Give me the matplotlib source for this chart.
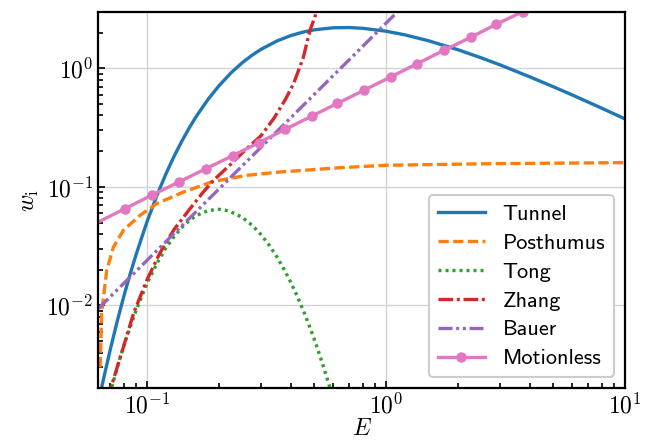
import numpy as np
import matplotlib
matplotlib.use('Agg')
import matplotlib.pyplot as plt
from matplotlib import ticker

plt.rcParams['mathtext.fontset'] = 'cm'
plt.rcParams['font.size'] = 17

# values
tunnel_E = [0.0625, 0.065, 0.07, 0.075, 0.08, 0.085, 0.09, 0.095, 0.1, 0.11, 0.12, 0.13, 0.14,
            0.15, 0.16, 0.18, 0.2, 0.225, 0.25, 0.275, 0.3, 0.35, 0.4, 0.45, 0.5, 0.6, 0.7, 0.8,
            1.0, 1.2, 1.5, 2, 2.5, 3, 4, 5, 6, 8, 10]
tunnel_w = [0.00149, 0.00217, 0.00417, 0.00735, 0.0120, 0.01845, 0.0269, 0.0374, 0.0509,
            0.0848, 0.129, 0.1825, 0.244, 0.313, 0.388, 0.547, 0.713, 0.919, 1.112, 1.288,
            1.446, 1.701, 1.889, 2.020, 2.109, 2.195, 2.205, 2.173, 2.054, 1.913, 1.710, 1.433,
            1.225, 1.068, 0.846, 0.700, 0.597, 0.460, 0.374]

post_E = [0.0636, 0.0646, 0.0678, 0.0723, 0.0796, 0.0935, 0.1098, 0.142, 0.189, 0.261, 0.36,
          0.642, 1.0, 2.9, 10]
post_w = [0.0030, 0.0088, 0.0197, 0.031, 0.043, 0.0575, 0.0722, 0.0904, 0.111, 0.125, 0.1334,
          0.145, 0.152, 0.157, 0.160]

tong_E = [0.07, 0.075, 0.08, 0.09, 0.1, 0.11, 0.12, 0.13, 0.14, 0.15, 0.16, 0.18, 0.2, 0.22,
          0.25, 0.275, 0.3, 0.325, 0.35, 0.375, 0.4, 0.425, 0.45, 0.475, 0.5, 0.525, 0.55,
          0.575, 0.6]
tong_w = [0.0018, 0.00299, 0.0046, 0.00913, 0.01533, 0.02265, 0.0306, 0.0383, 0.0455, 0.0518,
          0.0569, 0.0631, 0.0647, 0.0627, 0.0554, 0.0475, 0.0395, 0.0320, 0.0255, 0.0200,
          0.01555, 0.01195, 0.00913, 0.00692, 0.00523, 0.00393, 0.00294, 0.0022, 0.00164]

zhang_E = [0.068, 0.071, 0.08, 0.088, 0.1, 0.113, 0.13, 0.15, 0.17, 0.19, 0.22, 0.26, 0.3,
           0.34, 0.38, 0.41, 0.45, 0.48, 0.5, 0.515]
zhang_w = [0.0016, 0.0021, 0.0046, 0.0087, 0.0165, 0.0275, 0.044, 0.064, 0.088, 0.114, 0.150,
           0.208, 0.27, 0.38, 0.55, 0.74, 1.22, 2.07, 2.6, 3.1]

bauer_E = [0.0625, 0.1, 0.2, 0.5, 1.0, 1.2]
bauer_w = [0.0094, 0.024, 0.096, 0.6, 2.4, 3.46]

motion_E = [0.0625, 0.0809, 0.1052, 0.136, 0.176, 0.228, 0.294, 0.378, 0.489, 0.625, 0.809,
            1.047, 1.353, 1.75, 2.26, 2.88, 3.73, 4.82]
motion_w = [0.0505, 0.0655, 0.0855, 0.110, 0.142, 0.183, 0.236, 0.305, 0.395, 0.505, 0.653,
            0.846, 1.096, 1.419, 1.82, 2.34, 3.0, 3.9]

fig = plt.figure(figsize=(6.57, 4.43), dpi=100)
ax = fig.add_axes([0.1496, 0.1235, 0.8017, 0.8501])

lw = 2.4
ax.plot(tunnel_E, tunnel_w, color='#1f77b4', lw=lw, label='Tunnel')
ax.plot(post_E, post_w, color='#ff7f0e', lw=lw, dashes=(3.1, 1.3), label='Posthumus')
ax.plot(tong_E, tong_w, color='#2ca02c', lw=lw, dashes=(0.9, 1.2), label='Tong')
ax.plot(zhang_E, zhang_w, color='#d62728', lw=lw, dashes=(4.4, 1.1, 0.9, 1.1), label='Zhang')
ax.plot(bauer_E, bauer_w, color='#9467bd', lw=lw, dashes=(4.2, 1.1, 0.9, 1.1, 0.9, 1.1),
        label='Bauer')
ax.plot(motion_E, motion_w, color='#e377c2', lw=lw, marker='o', ms=6.5,
        markevery=slice(1, None), label='Motionless')

ax.set_xscale('log')
ax.set_yscale('log')
ax.set_xlim(0.0625, 10)
ax.set_ylim(0.002, 3.0)

fmt = ticker.FuncFormatter(lambda v, p: r'$10^{%d}$' % int(round(np.log10(v))))
ax.xaxis.set_major_formatter(fmt)
ax.yaxis.set_major_formatter(fmt)
ax.xaxis.set_minor_formatter(ticker.NullFormatter())
ax.yaxis.set_minor_formatter(ticker.NullFormatter())
ax.tick_params(which='both', direction='in', width=1.2)
ax.tick_params(which='major', length=5)
ax.tick_params(which='minor', length=3.5)
for s in ax.spines.values():
    s.set_linewidth(1.6)

ax.grid(True, which='major', color='0.83', lw=1.0)
ax.set_axisbelow(True)

ax.set_xlabel(r'$E$', labelpad=-2)
ax.set_ylabel(r'$w_\mathrm{i}$')

leg = ax.legend(loc='lower right', prop={'family': 'cmss10', 'size': 16}, framealpha=1.0,
                edgecolor='0.8', labelspacing=0.42, handlelength=2.1)
leg.get_frame().set_linewidth(1.5)

fig.savefig('out.png', dpi=100)
